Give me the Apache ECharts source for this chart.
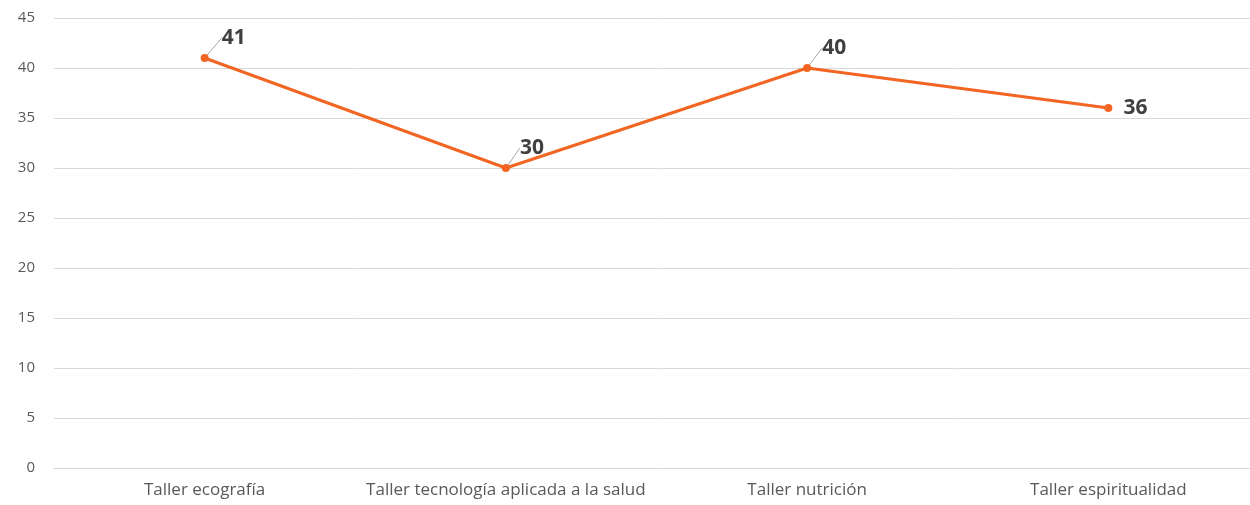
<!DOCTYPE html>
<html><head><meta charset="utf-8">
<script src="https://cdn.jsdelivr.net/npm/echarts@6/dist/echarts.min.js"></script>
<style>html,body{margin:0;padding:0;background:#fff;overflow:hidden}#c{width:1259px;height:505px}</style>
</head><body><div id="c"></div>
<script>
const categories = ["Taller ecografía", "Taller tecnología aplicada a la salud", "Taller nutrición", "Taller espiritualidad"];
const values = [41, 30, 40, 36];
const labelShift = [[4, -20], [1, -20], [2, -20], [0, 0]];

const chart = echarts.init(document.getElementById('c'));
chart.setOption({
  animation: false,
  grid: {left: 54, right: 0, top: 18, bottom: 37},
  xAxis: {
    type: 'category', data: categories, boundaryGap: true,
    axisLine: {show: true, lineStyle: {color: '#d9d9d9', width: 1}},
    axisTick: {show: false},
    axisLabel: {color: '#595959', fontSize: 17, fontFamily: 'Open Sans', margin: 14, interval: 0}
  },
  yAxis: {
    type: 'value', min: 0, max: 45, interval: 5,
    axisLine: {show: false}, axisTick: {show: false},
    axisLabel: {color: '#595959', fontSize: 15, fontFamily: 'Open Sans', margin: 19},
    splitLine: {lineStyle: {color: '#d9d9d9', width: 1}}
  },
  series: [{
    type: 'line',
    data: values.map((v, i) => i === 3 ? {value: v, label: {distance: 11}, labelLine: {show: false}} : v),
    symbol: 'circle', symbolSize: 8,
    itemStyle: {color: '#F26522'},
    lineStyle: {color: '#F26522', width: 3},
    label: {show: true, position: 'right', distance: 9, fontSize: 21, fontWeight: 'bold', color: '#404040', fontFamily: 'Open Sans'},
    labelLayout: function (p) {
      const s = labelShift[p.dataIndex];
      return {dx: s[0], dy: s[1]};
    },
    labelLine: {show: true, smooth: false, lineStyle: {color: '#a6a6a6', width: 1}}
  }]
});
</script></body></html>
